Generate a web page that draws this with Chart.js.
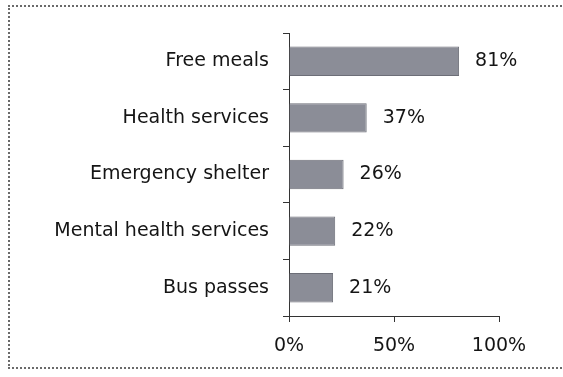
<!DOCTYPE html>
<html>
<head>
<meta charset="utf-8">
<script src="https://cdn.jsdelivr.net/npm/chart.js@4.4.0/dist/chart.umd.min.js"></script>
<style>
  html, body { margin: 0; padding: 0; background: #fff; }
  #wrap { position: relative; width: 563px; height: 377px; }
  #frame {
    position: absolute; left: 8px; top: 5px; width: 570px; height: 364px;
    border: 2px dotted #6a6a6a; box-sizing: border-box;
  }
  canvas { position: absolute; left: 0; top: 0; }
</style>
</head>
<body>
<div id="wrap">
  <div id="frame"></div>
  <canvas id="chart" width="563" height="377"></canvas>
</div>
<script>
// 項目と割合（%）
const categories = ['Free meals', 'Health services', 'Emergency shelter', 'Mental health services', 'Bus passes'];
const percents = [81, 37, 26, 22, 21];
const xTicks = [0, 50, 100];

const FONT = "'DejaVu Sans', sans-serif";

// 棒の右に値を描く
const valueLabels = {
  id: 'valueLabels',
  afterDatasetsDraw(chart) {
    const ctx = chart.ctx;
    const meta = chart.getDatasetMeta(0);
    ctx.save();
    ctx.font = '19px ' + FONT;
    ctx.fillStyle = '#151515';
    ctx.textBaseline = 'middle';
    ctx.textAlign = 'left';
    meta.data.forEach((bar, i) => {
      ctx.fillText(percents[i] + '%', bar.x + 16, bar.y);
    });
    ctx.restore();
  }
};

new Chart(document.getElementById('chart'), {
  type: 'bar',
  data: {
    labels: categories,
    datasets: [{
      data: percents,
      backgroundColor: '#8b8d97',
      borderColor: '#6c6e77',
      borderWidth: 1,
      categoryPercentage: 0.52,
      barPercentage: 1.0,
    }]
  },
  options: {
    indexAxis: 'y',
    responsive: false,
    animation: false,
    layout: { padding: { top: 33, right: 64, bottom: 0, left: 0 } },
    plugins: { legend: { display: false }, tooltip: { enabled: false } },
    scales: {
      x: {
        min: 0,
        max: 100,
        afterBuildTicks: (scale) => { scale.ticks = xTicks.map(v => ({ value: v })); },
        afterFit: (scale) => { scale.height = 61; },
        border: { display: true, color: '#333', width: 1 },
        grid: { drawOnChartArea: false, drawTicks: true, tickLength: 6, color: '#333' },
        ticks: {
          padding: 13,
          color: '#151515',
          font: { family: FONT, size: 19 },
          maxRotation: 0,
          callback: (v) => v + '%',
        },
      },
      y: {
        afterFit: (scale) => { scale.width = 289; },
        border: { display: true, color: '#333', width: 1 },
        grid: { offset: true, drawOnChartArea: false, drawTicks: true, tickLength: 6, color: '#333' },
        ticks: {
          padding: 14,
          color: '#151515',
          font: { family: FONT, size: 19 },
        },
      },
    },
  },
  plugins: [valueLabels],
});
</script>
</body>
</html>
